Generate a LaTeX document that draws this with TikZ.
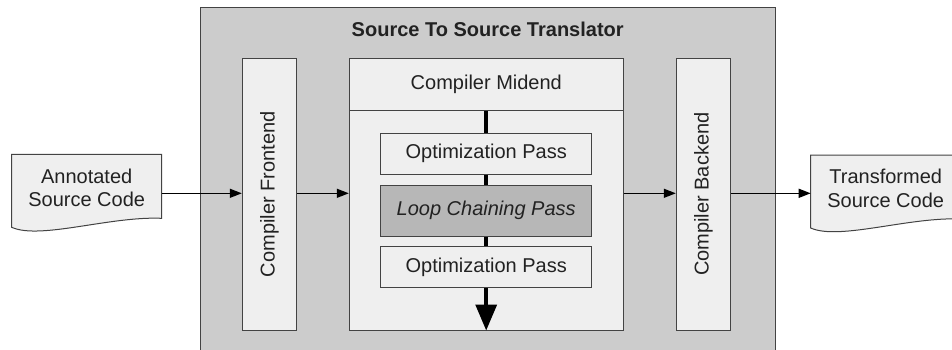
\documentclass[tikz,border=0pt]{standalone}
\usepackage{fontspec}
\setmainfont{Liberation Sans}
\usetikzlibrary{arrows.meta}
\definecolor{outergray}{HTML}{CCCCCC}
\definecolor{lightgray}{HTML}{EFEFEF}
\definecolor{loopgray}{HTML}{B7B7B7}
\definecolor{edgegray}{HTML}{434343}
\definecolor{textgray}{HTML}{222222}
\tikzset{
  boxbase/.style={draw=edgegray, line width=1pt, inner sep=0pt, text=textgray,
    font=\fontsize{20}{22}\selectfont, align=center},
  lightbox/.style={boxbase, fill=lightgray},
  loopbox/.style={boxbase, fill=loopgray, font=\fontsize{20}{22}\selectfont\itshape},
  doctext/.style={font=\fontsize{20}{23.4}\selectfont, text=textgray, align=center, inner sep=0pt},
  flowarrow/.style={draw=black, line width=1.4pt, -{Triangle[length=12pt,width=9pt]}},
  thickline/.style={draw=black, line width=3.5pt},
  bigarrow/.style={draw=black, line width=3.5pt, -{Triangle[length=26pt,width=21pt]}},
  docshape/.style={draw=edgegray, line width=1pt, fill=lightgray}
}
\begin{document}
\begin{tikzpicture}[x=1pt,y=-1pt]
\clip (0,0) rectangle (952,349);
% outer translator box
\node[draw=edgegray, line width=1pt, fill=outergray, inner sep=0pt, minimum width=574.5pt, minimum height=353pt] (outer) at (487.75,183.5) {};
\node[font=\fontsize{20}{22}\selectfont\bfseries, text=textgray] (title) at (487.7,29) {Source To Source Translator};
% documents
\path[docshape] (11.7,154.3) -- (161.7,154.3) -- (161.7,218.3)
  .. controls (110,216) and (40,240) .. (11.7,227.3) -- cycle;
\node[doctext] (src) at (86.7,187.8) {Annotated\\Source Code};
\coordinate (srcR) at (161.7,193.3);
\path[docshape] (810.7,155) -- (960.7,155) -- (960.7,219)
  .. controls (909,216.7) and (839,240.7) .. (810.7,228) -- cycle;
\node[doctext] (dst) at (885.7,188.3) {Transformed\\Source Code};
\coordinate (dstL) at (810.7,193.3);
% frontend / backend
\node[lightbox, rotate=90, minimum width=271.7pt, minimum height=54.4pt] (fe) at (269.5,194.2) {Compiler Frontend};
\node[lightbox, rotate=90, minimum width=271.7pt, minimum height=54.4pt] (be) at (703.5,194.2) {Compiler Backend};
% midend
\node[lightbox, minimum width=274pt, minimum height=52.4pt] (midhead) at (486.3,84.5) {Compiler Midend};
\node[lightbox, minimum width=274pt, minimum height=219.3pt] (midbody) at (486.3,220.35) {};
% passes
\node[lightbox, minimum width=211pt, minimum height=40.7pt] (opt1) at (486.2,153.7) {Optimization Pass};
\node[loopbox, minimum width=211pt, minimum height=51pt] (loop) at (486.2,210.5) {Loop Chaining Pass};
\node[lightbox, minimum width=211pt, minimum height=41pt] (opt2) at (486.2,267.2) {Optimization Pass};
% central flow
\draw[thickline] (midhead.south -| opt1.north) -- (opt1.north);
\draw[thickline] (opt1.south) -- (loop.north);
\draw[thickline] (loop.south) -- (opt2.north);
\draw[bigarrow] (opt2.south) -- (midbody.south -| opt2.south);
% horizontal flow
\draw[flowarrow] (srcR) -- (srcR -| fe.north);
\draw[flowarrow] (fe.south |- srcR) -- (srcR -| midbody.west);
\draw[flowarrow] (midbody.east |- srcR) -- (srcR -| be.north);
\draw[flowarrow] (be.south |- dstL) -- (dstL);
\end{tikzpicture}
\end{document}
